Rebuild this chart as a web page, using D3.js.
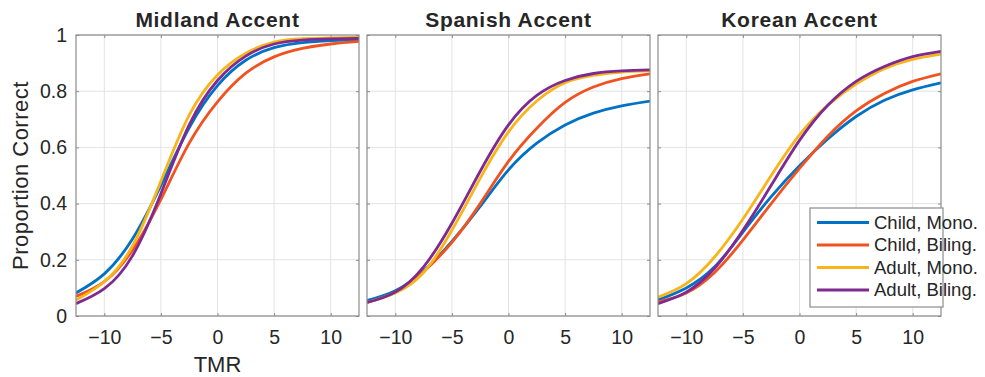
<!DOCTYPE html>
<html>
<head>
	<meta charset="utf-8">
	<title>Proportion Correct by TMR</title>
	<script src="https://cdn.jsdelivr.net/npm/d3@7"></script>
</head>

<style>
	body { margin:0; background:#fff; }
	text { font-family:"Liberation Sans", Arial, sans-serif; fill:#262626; }
</style>

<body>
<svg width="985" height="377"></svg>
<script>

	// values at each TMR step
	var tmr = [-12.5, -10, -7.5, -5, -2.5, 0, 2.5, 5, 7.5, 10, 12.5];
	var xTicks = [-10, -5, 0, 5, 10];
	var yTicks = [0, 0.2, 0.4, 0.6, 0.8, 1];
	var yTickLabels = ["0", "0.2", "0.4", "0.6", "0.8", "1"];
	var panels = ["Midland Accent", "Spanish Accent", "Korean Accent"];
	var groups = ["Child, Mono.", "Child, Biling.", "Adult, Mono.", "Adult, Biling."];
	var colors = ["#0072c6", "#f0531f", "#f7b519", "#7f2a91"];

	// order: child mono, child biling, adult mono, adult biling
	var midland = [
		[0.082, 0.150, 0.275, 0.465, 0.670, 0.820, 0.910, 0.955, 0.973, 0.980, 0.984],
		[0.070, 0.122, 0.235, 0.415, 0.615, 0.762, 0.864, 0.922, 0.952, 0.968, 0.977],
		[0.057, 0.122, 0.250, 0.480, 0.715, 0.858, 0.935, 0.975, 0.987, 0.990, 0.992],
		[0.044, 0.097, 0.215, 0.435, 0.680, 0.838, 0.925, 0.968, 0.982, 0.986, 0.988]
	];
	var spanish = [
		[0.055, 0.090, 0.160, 0.265, 0.390, 0.520, 0.615, 0.680, 0.722, 0.748, 0.765],
		[0.048, 0.085, 0.158, 0.262, 0.400, 0.550, 0.668, 0.760, 0.815, 0.845, 0.862],
		[0.048, 0.082, 0.155, 0.305, 0.490, 0.655, 0.765, 0.830, 0.856, 0.868, 0.872],
		[0.048, 0.085, 0.175, 0.330, 0.515, 0.680, 0.785, 0.838, 0.863, 0.872, 0.876]
	];
	var korean = [
		[0.057, 0.100, 0.175, 0.298, 0.425, 0.535, 0.630, 0.710, 0.768, 0.805, 0.830],
		[0.050, 0.082, 0.155, 0.270, 0.400, 0.525, 0.640, 0.730, 0.792, 0.835, 0.862],
		[0.067, 0.115, 0.210, 0.345, 0.500, 0.645, 0.750, 0.825, 0.880, 0.913, 0.932],
		[0.044, 0.085, 0.170, 0.305, 0.465, 0.625, 0.750, 0.835, 0.888, 0.923, 0.942]
	];
	var panelData = [midland, spanish, korean];

	var svg = d3.select("svg");
	var margin = {top:35, left:76};
	var panelW = 283, panelH = 281, step = 291;

	var x = d3.scaleLinear().domain([-12.5, 12.5]).range([0, panelW]);
	var y = d3.scaleLinear().domain([0, 1]).range([panelH, 0]);

	var line = d3.line()
				 .curve(d3.curveNatural)
				 .x(function(d, i){ return x(tmr[i]); })
				 .y(function(d){ return y(d); });

	svg.append("defs").append("clipPath")
	   .attr("id", "plot-clip")
	   .append("rect")
	   .attr("width", panelW)
	   .attr("height", panelH);

	panels.forEach(function(title, p){
		var g = svg.append("g")
				   .attr("transform", "translate(" + (margin.left + p * step) + "," + margin.top + ")");

		// grid
		g.append("g").selectAll("line.vgrid")
		 .data(xTicks).enter().append("line")
		 .attr("x1", function(d){ return x(d); })
		 .attr("x2", function(d){ return x(d); })
		 .attr("y1", 0).attr("y2", panelH)
		 .attr("stroke", "#e3e3e3");
		g.append("g").selectAll("line.hgrid")
		 .data(yTicks).enter().append("line")
		 .attr("y1", function(d){ return y(d); })
		 .attr("y2", function(d){ return y(d); })
		 .attr("x1", 0).attr("x2", panelW)
		 .attr("stroke", "#e3e3e3");

		// bottom axis with labels, plus inward ticks on every side
		var xa = g.append("g")
				  .attr("transform", "translate(0," + panelH + ")")
				  .call(d3.axisBottom(x).tickValues(xTicks).tickSizeInner(-3).tickSizeOuter(0).tickPadding(14)
				  		.tickFormat(function(d){ return d < 0 ? "\u2212" + Math.abs(d) : d; }));
		xa.select(".domain").remove();
		xa.selectAll("line").attr("stroke", "#8c8c8c");
		xa.selectAll("text").attr("font-size", "19.5px").attr("fill", "#262626")
		  .style("font-family", "'Liberation Sans', Arial, sans-serif");

		var xt = g.append("g").call(d3.axisTop(x).tickValues(xTicks).tickSizeInner(-3).tickSizeOuter(0).tickFormat(""));
		xt.select(".domain").remove();
		xt.selectAll("line").attr("stroke", "#8c8c8c");

		var ya = g.append("g")
				  .call(d3.axisLeft(y).tickValues(yTicks).tickSizeInner(-3).tickSizeOuter(0).tickPadding(9)
				  		.tickFormat(function(d, i){ return p === 0 ? yTickLabels[i] : ""; }));
		ya.select(".domain").remove();
		ya.selectAll("line").attr("stroke", "#8c8c8c");
		ya.selectAll("text").attr("font-size", "19.5px").attr("fill", "#262626")
		  .style("font-family", "'Liberation Sans', Arial, sans-serif");

		var yr = g.append("g").attr("transform", "translate(" + panelW + ",0)")
				  .call(d3.axisRight(y).tickValues(yTicks).tickSizeInner(-3).tickSizeOuter(0).tickFormat(""));
		yr.select(".domain").remove();
		yr.selectAll("line").attr("stroke", "#8c8c8c");

		// curves
		g.append("g")
		 .attr("clip-path", "url(#plot-clip)")
		 .selectAll("path")
		 .data(panelData[p])
		 .enter()
		 .append("path")
		 .attr("fill", "none")
		 .attr("stroke-width", 2.8)
		 .attr("stroke", function(d, i){ return colors[i]; })
		 .attr("d", line);

		// box
		g.append("rect")
		 .attr("width", panelW).attr("height", panelH)
		 .attr("fill", "none")
		 .attr("stroke", "#8c8c8c")
		 .attr("stroke-width", 1.2);

		g.append("text")
		 .attr("x", panelW / 2)
		 .attr("y", -8)
		 .attr("text-anchor", "middle")
		 .attr("font-size", "21px")
		 .attr("font-weight", "bold")
		 .attr("letter-spacing", "0.7px")
		 .text(title);

		if (p === 0) {
			g.append("text")
			 .attr("x", panelW / 2)
			 .attr("y", 337)
			 .attr("text-anchor", "middle")
			 .attr("font-size", "22px")
			 .text("TMR");
			g.append("text")
			 .attr("transform", "translate(-48," + (panelH / 2) + ") rotate(-90)")
			 .attr("text-anchor", "middle")
			 .attr("font-size", "22px")
			 .attr("letter-spacing", "0.5px")
			 .text("Proportion Correct");
		}

		// legend sits in the last panel
		if (p === panels.length - 1) {
			var lg = g.append("g").attr("transform", "translate(" + (810 - 658) + "," + (208 - 35) + ")");
			lg.append("rect")
			  .attr("width", 133).attr("height", 99)
			  .attr("fill", "#fff")
			  .attr("stroke", "#8c8c8c")
			  .attr("stroke-width", 1.2);
			var item = lg.selectAll("g.item")
						 .data(groups)
						 .enter().append("g")
						 .attr("transform", function(d, i){ return "translate(0," + (14.5 + i * 22.5) + ")"; });
			item.append("line")
				.attr("x1", 7).attr("x2", 59)
				.attr("stroke-width", 3)
				.attr("stroke", function(d, i){ return colors[i]; });
			item.append("text")
				.attr("x", 64)
				.attr("dy", "0.35em")
				.attr("font-size", "18.5px")
				.text(function(d){ return d; });
		}
	});

</script>
</body>
</html>
